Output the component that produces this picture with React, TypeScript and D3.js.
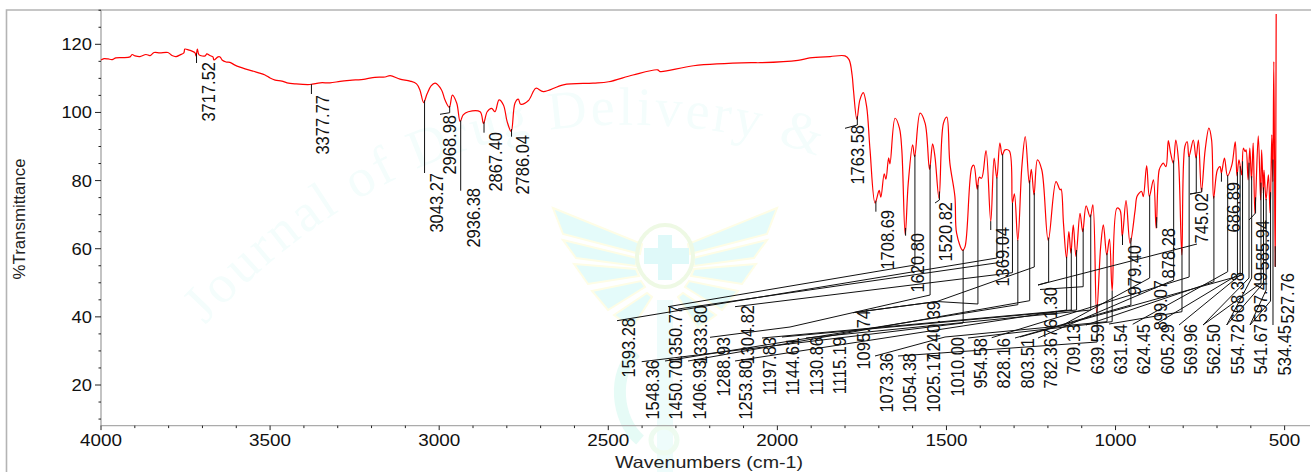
import React from "react";
import * as d3 from "d3";

// Spectrum: wavenumber (cm-1) and %T
const wavenumbers = [
  4000,3991,3979,3967,3956,3938,3914,3908,3899,3885,3867,3855,3843,3826,3802,3790,3778,3766,3755,3752,3740,3731,3722,3719,3715,3710,3692,3687,3678,3669,3666,3654,3648,3642,3630,3619,3604,3589,3574,3553,3536,3515,3500,3485,3465,3450,3426,3382,3352,3323,3293,3264,3219,3190,3160,3145,3116,3086,3067,3057,3046,3036,3024,3012,2993,2983,2970,2961,2948,2938,2929,2914,2879,2869,2858,2845,2835,2823,2810,2799,2787,2776,2766,2759,2736,2714,2692,2633,2545,2499,2427,2354,2347,2248,2077,2051,1939,1904,1844,1800,1788,1779,1775,1765,1756,1746,1736,1726,1711,1699,1694,1684,1679,1671,1667,1652,1639,1632,1622,1613,1600,1594,1578,1563,1550,1541,1534,1522,1509,1499,1490,1475,1470,1452,1445,1425,1419,1409,1403,1396,1383,1369,1359,1351,1342,1335,1327,1314,1305,1299,1289,1277,1267,1255,1249,1241,1231,1218,1199,1176,1164,1161,1154,1145,1138,1132,1125,1117,1105,1097,1087,1075,1067,1056,1044,1036,1026,1018,1010,996,987,980,969,957,942,936,923,918,908,900,888,880,871,864,859,851,844,837,829,822,814,804,795,788,783,770,762,755,746,735,724,716,710,699,691,687,678,669,656,646,641,635,627,622,617,614,608,603,598,593,588,578,571,568,563,561,555,548,543,538,535,532,528,525,
];
const transmittance = [
  115.4,115.8,115.7,115.5,116.0,116.1,116.3,117.0,116.6,116.4,117.0,116.7,117.6,117.5,117.6,116.7,116.4,116.9,117.5,118.6,118.3,118.0,117.5,116.6,118.6,116.9,116.6,117.2,116.7,116.3,115.4,116.3,116.3,115.4,114.8,114.7,113.9,113.3,112.8,112.2,111.7,111.0,110.1,109.5,109.2,108.7,108.4,108.2,108.7,108.7,109.1,109.4,109.8,110.3,110.4,110.8,109.8,109.2,108.4,106.6,102.9,105.4,107.8,108.6,106.6,103.7,101.5,105.1,102.7,97.3,99.3,100.2,100.2,96.8,100.2,101.2,100.2,103.7,102.2,97.3,94.4,102.7,103.9,102.4,103.5,107.1,106.1,108.1,108.6,109.0,111.0,112.5,112.0,113.7,114.6,114.6,115.3,116.0,116.4,116.6,115.5,111.0,106.6,98.0,103.7,105.8,101.7,89.0,73.4,77.1,75.1,82.0,80.4,86.7,84.9,98.3,95.4,89.0,64.1,79.2,90.5,87.0,99.8,96.8,83.3,90.8,87.0,74.8,96.8,98.6,85.2,75.3,64.6,59.5,60.6,83.9,84.5,77.5,81.0,80.7,88.8,68.0,86.6,80.7,91.0,87.5,89.0,88.7,73.4,76.1,62.4,84.1,92.9,79.2,83.3,75.8,86.1,83.1,62.4,79.7,77.3,77.5,67.5,57.2,65.0,58.7,67.0,57.7,70.4,65.0,72.6,69.3,72.9,41.1,60.6,67.0,58.2,62.8,47.7,71.9,71.4,63.6,74.1,61.6,71.4,75.5,76.8,75.3,84.4,75.3,80.2,66.0,83.1,84.6,85.1,84.1,91.7,88.0,85.1,91.9,86.1,58.2,90.0,91.4,87.0,91.9,86.6,91.9,76.8,89.0,95.4,91.9,74.8,83.1,84.1,82.2,86.6,81.4,84.6,91.4,81.4,86.1,81.7,89.5,88.5,89.0,80.2,89.5,80.2,91.0,70.4,93.1,74.3,89.0,76.3,83.1,74.3,81.7,70.5,93.4,79.7,114.9,54.8,128.9,
];

const peakLabels = [
  "3717.52","3377.77","3043.27","2968.98","2936.38","2867.40","2786.04","1763.58","1708.69","1620.80","1593.28","1548.36","1520.82","1450.70","1406.93","1369.04","1350.77","1333.80","1304.82","1288.93","1253.80","1240.39","1197.83","1144.61","1130.86","1115.19","1095.74","1073.36","1054.38","1025.17","1010.00","979.40","954.58","899.07","878.28","828.16","803.51","782.36","761.30","745.02","709.13","686.89","668.38","639.59","631.54","624.45","605.29","597.49","585.94","569.96","562.50","554.72","541.67","534.45","527.76",
];

const xMajorTicks = [4000, 3500, 3000, 2500, 2000, 1500, 1000, 500];
const yMajorTicks = [20, 40, 60, 80, 100, 120];

// Layout only: where each peak annotation sits, in page pixels
// [label centre x, label top y]
const labelPlace: Record<string, [number, number]> = {
  "3717.52":[208,62],"3377.77":[322,95],"3043.27":[436,173],"2968.98":[449,115],"2936.38":[473,188],"2867.40":[495,132],"2786.04":[522,135],"1763.58":[857,125],"1708.69":[887,210],"1620.80":[917,233],"1593.28":[628,318],"1548.36":[652,360],"1520.82":[945,202],"1450.70":[675,360],"1406.93":[699,360],"1369.04":[1002,227],"1350.77":[675,305],"1333.80":[700,305],"1304.82":[747,305],"1288.93":[723,337],"1253.80":[745,360],"1240.39":[933,301],"1197.83":[769,337],"1144.61":[792,337],"1130.86":[816,337],"1115.19":[839,337],"1095.74":[863,310],"1073.36":[886,353],"1054.38":[909,353],"1025.17":[933,353],"1010.00":[957,337],"979.40":[1134,245],"954.58":[980,338],"899.07":[1160,280],"878.28":[1168,228],"828.16":[1003,338],"803.51":[1027,338],"782.36":[1050,338],"761.30":[1050,287],"745.02":[1201,193],"709.13":[1073,324],"686.89":[1233,182],"668.38":[1237,272],"639.59":[1097,324],"631.54":[1120,324],"624.45":[1143,324],"605.29":[1167,324],"597.49":[1260,272],"585.94":[1262,220],"569.96":[1190,324],"562.50":[1213,324],"554.72":[1237,324],"541.67":[1260,324],"534.45":[1284,325],"527.76":[1287,273],
};
// [y where the drop ends, ...then bend points]
type Route = [number, ...[number, number][]];
const leaderRoute: Record<string, Route> = {
  "3717.52":[63],"3377.77":[94],"3043.27":[173],"2968.98":[112.7,[440,114.3]],"2936.38":[190.7],"2867.40":[132.7],"2786.04":[136.7],"1763.58":[125,[845,128.3]],"1708.69":[211.7],"1620.80":[235.7],
  "1593.28":[265,[668,306.7]],"1548.36":[295,[790,327],[710,337.3]],"1520.82":[200,[935,203]],"1450.70":[323,[641.7,361.7]],"1406.93":[304,[937,301.5],[853,312.7]],"1369.04":[230],"1350.77":[258,[617,320.7]],"1333.80":[262,[678,309]],"1304.82":[272.7,[735,306.7]],"1288.93":[304.7,[665,361]],"1253.80":[300.7,[688,361]],"1240.39":[267,[937,301.5],[853,312.7]],
  "1197.83":[282,[1038,285],[1197,244]],"1144.61":[310,[735,361]],"1130.86":[310,[762,338]],"1115.19":[310,[782,337]],"1095.74":[286.7,[1040,289.5]],"1073.36":[310,[806,338]],"1054.38":[342,[898,356]],"1025.17":[321.7,[945,337],[875,356]],"1010.00":[321.7,[968,338]],"979.40":[245],
  "954.58":[305,[1015,338]],"899.07":[278,[1063,325]],"878.28":[228],"828.16":[280,[1038,338]],"803.51":[311.7,[1109,324]],"782.36":[277,[991.7,337.7]],"761.30":[193,[1190,194]],"745.02":[192,[1190,194]],"709.13":[281.7,[1086,325]],"686.89":[181.7],"668.38":[271.7,[1132.7,324.3]],"639.59":[275,[1156,324]],"631.54":[275,[1179,325]],"624.45":[275,[1020,337]],"605.29":[278,[1203,325]],"597.49":[278,[1226.7,325]],"585.94":[213,[1249,220]],"569.96":[283,[1203,325]],"562.50":[283,[1226.7,325]],"554.72":[290,[1250,325]],"541.67":[301,[1250,325]],"534.45":[325],"527.76":[267],
};

const W = 1311, H = 472;
const x = d3.scaleLinear().domain([4000, 425]).range([101, 1310]);
const y = d3.scaleLinear().domain([20, 120]).range([385, 44.3]);
const axisBottom = 425.6, axisTop = 10;

const spectrum = wavenumbers.map((w, i) => [w, transmittance[i]] as [number, number]);
const bisect = d3.bisector((d: [number, number]) => -d[0]).left;
function tAt(w: number): number {
  const i = Math.min(Math.max(bisect(spectrum, -w), 1), spectrum.length - 1);
  const a = spectrum[i - 1], b = spectrum[i];
  return a[1] + ((b[1] - a[1]) * (a[0] - w)) / (a[0] - b[0]);
}

const spectrumPath = d3.line<[number, number]>()
  .x((d) => x(d[0])).y((d) => y(d[1]))
  .curve(d3.curveCatmullRom.alpha(0.5))(spectrum) as string;
const leaderLine = d3.line();
const SANS = '"Liberation Sans", Arial, sans-serif';

const wingL = [
  "M553 208 L642 244 L640 254 L563 234 Z",
  "M563 240 L637 258 L636 266 L576 258 Z",
  "M574 264 L636 269 L639 276 L588 284 Z",
  "M592 291 L641 281 L645 287 L608 310 Z",
  "M614 315 L647 293 L652 297 L632 328 Z",
];

function Watermark() {
  const wings = wingL.map((d, i) => (
    <g key={i}>
      <path d={d} fill="#e4fbfa" stroke="#fefde6" strokeWidth={2} />
      <path d={d} fill="#e4fbfa" stroke="#fefde6" strokeWidth={2} transform="translate(1330,0) scale(-1,1)" />
    </g>
  ));
  return (
    <g>
      <defs>
        <path id="wmArc" d="M205 325 C330 190 480 120 640 125 C720 127 790 140 860 175" fill="none" />
      </defs>
      <text fontFamily='"Liberation Serif", serif' fontSize={54} fill="#f4fdfc" letterSpacing={3}>
        <textPath href="#wmArc" startOffset="0">Journal of Drug Delivery &amp;</textPath>
      </text>
      {wings}
      <ellipse cx={665} cy={256} rx={28} ry={31} fill="none" stroke="#eef9e4" strokeWidth={4} />
      <path d="M658 235 H672 V248 H689 V264 H672 V280 H658 V264 H644 V248 H658 Z" fill="#dff9f9" />
      <rect x={657} y={300} width={16} height={172} fill="#eefcfb" />
      <path d="M636 352 C612 372 616 420 640 440" fill="none" stroke="#e6fbf6" strokeWidth={12} />
      <circle cx={664} cy={440} r={13} fill="none" stroke="#eefbf0" strokeWidth={5} />
    </g>
  );
}

export default function App() {
  const xMinor = d3.range(500, 4001, 100).filter((v) => !xMajorTicks.includes(v));
  const yMinor = d3.range(10, 131, 5).filter((v) => !yMajorTicks.includes(v));
  return (
    <svg width={W} height={H} viewBox={`0 0 ${W} ${H}`}
      style={{ position: "fixed", left: 0, top: 0, display: "block", background: "#fff" }}>
      <Watermark />
      {/* page frame */}
      <path d={`M6.5 ${H} V10 H${W}`} fill="none" stroke="#b4b4b4" strokeWidth={1.6} />
      {/* axes */}
      <path d={`M101 ${axisTop} V${axisBottom} H1310`} fill="none" stroke="#ababab" strokeWidth={1.4} />
      {xMinor.map((v) => <line key={v} x1={x(v)} x2={x(v)} y1={axisBottom} y2={axisBottom + 2.5} stroke="#222" />)}
      {xMajorTicks.map((v) => (
        <g key={v}>
          <line x1={x(v)} x2={x(v)} y1={axisBottom} y2={axisBottom + 4.5} stroke="#222" />
          <text x={x(v)} y={446} textAnchor="middle" fontFamily={SANS} fontSize={16.5} fill="#111"
            textLength={String(v).length * 10.5} lengthAdjust="spacingAndGlyphs">{v}</text>
        </g>
      ))}
      {yMinor.map((v) => <line key={v} x1={98.5} x2={101} y1={y(v)} y2={y(v)} stroke="#222" />)}
      {yMajorTicks.map((v) => (
        <g key={v}>
          <line x1={95} x2={101} y1={y(v)} y2={y(v)} stroke="#222" />
          <text x={92} y={y(v) + 6} textAnchor="end" fontFamily={SANS} fontSize={16.5} fill="#111"
            textLength={String(v).length * 10.2} lengthAdjust="spacingAndGlyphs">{v}</text>
        </g>
      ))}
      <text x={709} y={468} textAnchor="middle" fontFamily={SANS} fontSize={16.5} fill="#222"
        textLength={188} lengthAdjust="spacingAndGlyphs">Wavenumbers (cm-1)</text>
      <text transform="translate(24.5,219) rotate(-90)" textAnchor="middle" fontFamily={SANS} fontSize={16.5} fill="#222"
        textLength={121} lengthAdjust="spacingAndGlyphs">%Transmittance</text>

      <path d={spectrumPath} fill="none" stroke="#ff0000" strokeWidth={1.2} strokeLinejoin="round" />

      {peakLabels.map((lab) => {
        const w = +lab;
        const [endY, ...bends] = leaderRoute[lab];
        const pts: [number, number][] = [[x(w), y(tAt(w))], [x(w), endY], ...bends];
        return <path key={lab} d={leaderLine(pts) as string} fill="none" stroke="#111" strokeWidth={1} />;
      })}
      {peakLabels.map((lab) => {
        const [cx, top] = labelPlace[lab];
        return (
          <text key={lab} transform={`translate(${cx + 6.5},${top}) rotate(-90) scale(1,1.08)`} textAnchor="end"
            fontFamily={SANS} fontSize={16.5} fill="#111">{lab}</text>
        );
      })}
    </svg>
  );
}
